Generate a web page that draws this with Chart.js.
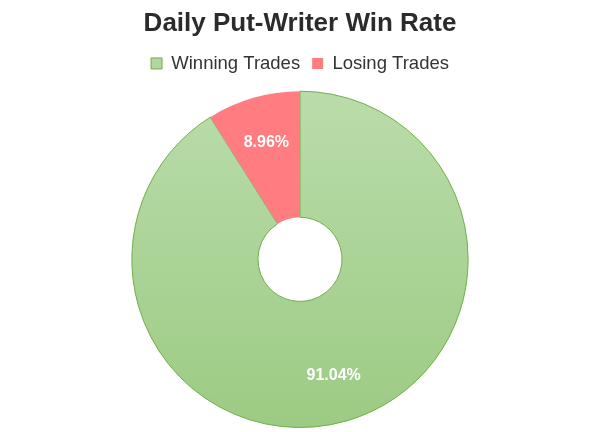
<!DOCTYPE html>
<html>
<head>
<meta charset="utf-8">
<script src="https://cdn.jsdelivr.net/npm/chart.js@4.4.1/dist/chart.umd.min.js"></script>
<style>
  html, body { margin: 0; padding: 0; background: #fff; }
  #wrap { width: 600px; height: 432px; }
</style>
</head>
<body>
<div id="wrap"><canvas id="winRate"></canvas></div>
<script>
// data
var categories = ['Winning Trades', 'Losing Trades'];
var sharePct = [91.04, 8.96];

var greenTop = '#badcab';
var greenBottom = '#9ccb83';
var redFill = '#ff7c80';

function sliceFill(context) {
  if (context.dataIndex === 1) return redFill;
  var chart = context.chart;
  var area = chart.chartArea;
  if (!area) return greenBottom;
  var g = chart.ctx.createLinearGradient(0, area.top, 0, area.bottom);
  g.addColorStop(0, greenTop);
  g.addColorStop(1, greenBottom);
  return g;
}

// white percentage labels inside the slices
var sliceLabels = {
  id: 'sliceLabels',
  afterDatasetsDraw: function (chart) {
    var ctx = chart.ctx;
    var meta = chart.getDatasetMeta(0);
    ctx.save();
    ctx.font = 'bold 16px "Liberation Sans", Arial, sans-serif';
    ctx.fillStyle = '#ffffff';
    ctx.textAlign = 'center';
    ctx.textBaseline = 'middle';
    meta.data.forEach(function (arc, i) {
      var mid = (arc.startAngle + arc.endAngle) / 2;
      var r = arc.outerRadius * 0.72;
      var x = arc.x + Math.cos(mid) * r;
      var y = arc.y + Math.sin(mid) * r;
      ctx.fillText(sharePct[i].toFixed(2) + '%', x, y);
    });
    ctx.restore();
  }
};

// extra gap between legend and doughnut
var legendGap = {
  id: 'legendGap',
  afterInit: function (chart) {
    var fit = chart.legend.fit;
    chart.legend.fit = function () {
      fit.call(this);
      this.height += 8;
    };
  }
};

var ctx01 = document.getElementById('winRate');
var winChart = new Chart(ctx01, {
  type: 'doughnut',
  data: {
    labels: categories,
    datasets: [{
      data: sharePct,
      backgroundColor: sliceFill,
      borderColor: function (c) { return c.dataIndex === 0 ? '#70ad47' : redFill; },
      borderWidth: function (c) { return c.dataIndex === 0 ? 1 : 0; },
      hoverOffset: 0
    }]
  },
  options: {
    responsive: true,
    maintainAspectRatio: false,
    animation: false,
    cutout: '25%',
    layout: {
      padding: { top: 0, bottom: 4 }
    },
    plugins: {
      title: {
        display: true,
        text: 'Daily Put-Writer Win Rate',
        color: '#2b2b2b',
        font: { family: '"Liberation Sans", Arial, sans-serif', size: 26, weight: 'bold' },
        padding: { top: 8, bottom: 3 }
      },
      legend: {
        position: 'top',
        labels: {
          color: '#333333',
          font: { family: '"Liberation Sans", Arial, sans-serif', size: 18.5 },
          boxWidth: 11,
          boxHeight: 11,
          padding: 12,
          generateLabels: function (chart) {
            return categories.map(function (c, i) {
              return {
                text: c,
                fillStyle: i === 0 ? '#b2d7a1' : redFill,
                strokeStyle: i === 0 ? '#70ad47' : redFill,
                lineWidth: i === 0 ? 1 : 0,
                fontColor: '#333333',
                index: i,
                hidden: false
              };
            });
          }
        }
      },
      tooltip: { enabled: false }
    }
  },
  plugins: [sliceLabels, legendGap]
});
</script>
</body>
</html>
